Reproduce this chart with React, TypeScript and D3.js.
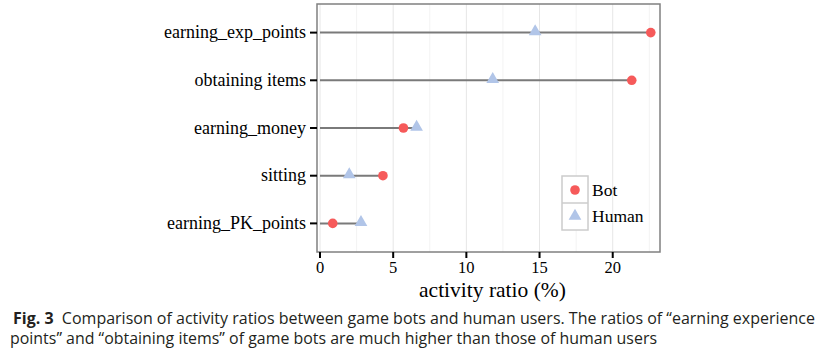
import { useEffect, useRef } from "react";
import * as d3 from "d3";

const categories = [
  "earning_exp_points",
  "obtaining items",
  "earning_money",
  "sitting",
  "earning_PK_points",
];
const botValues = [22.6, 21.3, 5.7, 4.3, 0.87];
const humanValues = [14.7, 11.8, 6.6, 2.0, 2.8];
const xTicks = [0, 5, 10, 15, 20];
const minorTicks = [2.5, 7.5, 12.5, 17.5, 22.5];
const legendLabels = ["Bot", "Human"];

const W = 819;
const H = 353;

const App: React.FC = () => {
  const svgRef = useRef<SVGSVGElement>(null);

  useEffect(() => {
    const svg = d3.select(svgRef.current);
    svg.selectAll("*").remove();

    const panel = { left: 317, right: 660, top: 4, bottom: 252 };
    const serif = "'Liberation Serif', 'Times New Roman', serif";

    const x = d3
      .scaleLinear()
      .domain([-0.205, 23.23])
      .range([panel.left, panel.right]);

    // discrete axis with ggplot-like 0.6 expansion
    const y = d3
      .scaleLinear()
      .domain([0.4, categories.length + 0.6])
      .range([panel.top, panel.bottom]);

    svg.append("rect").attr("width", W).attr("height", H).attr("fill", "#fff");

    // grid
    svg
      .selectAll(".minor")
      .data(minorTicks)
      .enter()
      .append("line")
      .attr("x1", (d) => x(d))
      .attr("x2", (d) => x(d))
      .attr("y1", panel.top)
      .attr("y2", panel.bottom)
      .attr("stroke", "#f3f3f3")
      .attr("stroke-width", 1);

    svg
      .selectAll(".major")
      .data(xTicks)
      .enter()
      .append("line")
      .attr("x1", (d) => x(d))
      .attr("x2", (d) => x(d))
      .attr("y1", panel.top)
      .attr("y2", panel.bottom)
      .attr("stroke", "#e6e6e6")
      .attr("stroke-width", 1);

    // segments from 0 to the larger value
    svg
      .selectAll(".seg")
      .data(categories)
      .enter()
      .append("line")
      .attr("x1", x(0))
      .attr("x2", (_, i) => x(Math.max(botValues[i], humanValues[i])))
      .attr("y1", (_, i) => y(i + 1))
      .attr("y2", (_, i) => y(i + 1))
      .attr("stroke", "#7a7a7a")
      .attr("stroke-width", 2);

    const tri = d3.symbol().type(d3.symbolTriangle).size(70);

    svg
      .selectAll(".human")
      .data(humanValues)
      .enter()
      .append("path")
      .attr("d", tri)
      .attr("transform", (d, i) => `translate(${x(d)},${y(i + 1) - 1})`)
      .attr("fill", "#b1c5e8");

    svg
      .selectAll(".bot")
      .data(botValues)
      .enter()
      .append("circle")
      .attr("cx", (d) => x(d))
      .attr("cy", (_, i) => y(i + 1))
      .attr("r", 4.8)
      .attr("fill", "#f65a5a");

    // panel border
    svg
      .append("rect")
      .attr("x", panel.left)
      .attr("y", panel.top)
      .attr("width", panel.right - panel.left)
      .attr("height", panel.bottom - panel.top)
      .attr("fill", "none")
      .attr("stroke", "#808080")
      .attr("stroke-width", 1.5);

    // y axis
    const yAxis = svg.append("g");
    categories.forEach((c, i) => {
      yAxis
        .append("line")
        .attr("x1", panel.left - 7)
        .attr("x2", panel.left)
        .attr("y1", y(i + 1))
        .attr("y2", y(i + 1))
        .attr("stroke", "#000")
        .attr("stroke-width", 2);
      yAxis
        .append("text")
        .attr("x", panel.left - 11)
        .attr("y", y(i + 1))
        .attr("dy", "0.32em")
        .attr("text-anchor", "end")
        .attr("font-family", serif)
        .attr("font-size", 18)
        .attr("fill", "#000")
        .text(c);
    });

    // x axis
    const xAxis = svg.append("g");
    xTicks.forEach((t) => {
      xAxis
        .append("line")
        .attr("x1", x(t))
        .attr("x2", x(t))
        .attr("y1", panel.bottom)
        .attr("y2", panel.bottom + 6)
        .attr("stroke", "#000")
        .attr("stroke-width", 2);
      xAxis
        .append("text")
        .attr("x", x(t))
        .attr("y", 273)
        .attr("text-anchor", "middle")
        .attr("font-family", serif)
        .attr("font-size", 16.5)
        .attr("fill", "#000")
        .text(t);
    });

    svg
      .append("text")
      .attr("x", (panel.left + panel.right) / 2 + 4)
      .attr("y", 297)
      .attr("text-anchor", "middle")
      .attr("font-family", serif)
      .attr("font-size", 21.5)
      .attr("fill", "#000")
      .text("activity ratio (%)");

    // legend
    const lg = svg.append("g").attr("transform", "translate(562,176)");
    lg.append("rect")
      .attr("width", 26)
      .attr("height", 54)
      .attr("fill", "#fff")
      .attr("stroke", "#cccccc")
      .attr("stroke-width", 1.5);
    lg.append("line")
      .attr("x1", 0)
      .attr("x2", 26)
      .attr("y1", 27)
      .attr("y2", 27)
      .attr("stroke", "#cccccc")
      .attr("stroke-width", 1.5);
    lg.append("circle").attr("cx", 13).attr("cy", 14).attr("r", 4.8).attr("fill", "#f65a5a");
    lg.append("path").attr("d", tri).attr("transform", "translate(13,40)").attr("fill", "#b1c5e8");
    legendLabels.forEach((l, i) => {
      lg.append("text")
        .attr("x", 30)
        .attr("y", 14 + i * 26)
        .attr("dy", "0.35em")
        .attr("font-family", serif)
        .attr("font-size", 17.5)
        .attr("fill", "#000")
        .text(l);
    });

    // caption
    const sans = "'Open Sans', 'Noto Sans', sans-serif";
    const cap1 = svg
      .append("text")
      .attr("x", 13)
      .attr("y", 324)
      .attr("font-family", sans)
      .attr("font-size", 15.5)
      .attr("fill", "#231f20")
      .attr("textLength", 802)
      .attr("lengthAdjust", "spacingAndGlyphs");
    cap1.append("tspan").attr("font-weight", "bold").text("Fig. 3");
    cap1
      .append("tspan")
      .text(
        "\u00a0 Comparison of activity ratios between game bots and human users. The ratios of \u201cearning experience"
      );
    svg
      .append("text")
      .attr("x", 10)
      .attr("y", 344)
      .attr("font-family", sans)
      .attr("font-size", 15.5)
      .attr("fill", "#231f20")
      .attr("textLength", 647)
      .attr("lengthAdjust", "spacingAndGlyphs")
      .text(
        "points\u201d and \u201cobtaining items\u201d of game bots are much higher than those of human users"
      );
  }, []);

  return (
    <svg
      ref={svgRef}
      width={W}
      height={H}
      style={{ position: "absolute", left: 0, top: 0, display: "block" }}
    />
  );
};

export default App;
